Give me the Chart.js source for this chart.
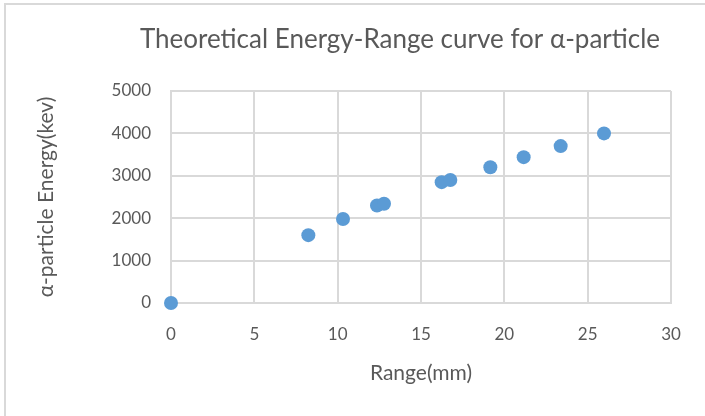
<!DOCTYPE html>
<html>
<head>
<meta charset="utf-8">
<script src="https://cdn.jsdelivr.net/npm/chart.js@4.4.1/dist/chart.umd.min.js"></script>
<style>
    html, body { margin: 0; padding: 0; background: #fff; }
    #wrap { position: relative; width: 705px; height: 416px; }
</style>
</head>
<body>
<div id="wrap"><canvas id="energyChart" width="705" height="416"></canvas></div>
<script>
const rangeMm = [0, 8.24, 10.32, 12.36, 12.78, 16.24, 16.76, 19.16, 21.16, 23.38, 25.98];
const energyKev = [0, 1600, 1980, 2300, 2340, 2850, 2900, 3200, 3440, 3700, 4000];
const xTicks = [0, 5, 10, 15, 20, 25, 30];
const yTicks = [0, 1000, 2000, 3000, 4000, 5000];

const chartTitle = 'Theoretical Energy-Range curve for α-particle';
const xTitle = 'Range(mm)';
const yTitle = 'α-particle Energy(kev)';

const textColor = '#595959';
const gridColor = '#d9d9d9';
const fontFamily = 'Lato, "Open Sans", sans-serif';

const chartFrame = {
    id: 'chartFrame',
    beforeDraw: function(chart) {
        const ctx = chart.ctx;
        ctx.save();
        ctx.fillStyle = '#fff';
        ctx.fillRect(0, 0, chart.width, chart.height);
        ctx.strokeStyle = gridColor;
        ctx.lineWidth = 2;
        ctx.beginPath();
        ctx.moveTo(5, chart.height);
        ctx.lineTo(5, 4);
        ctx.lineTo(chart.width, 4);
        ctx.stroke();
        ctx.restore();
    },
    afterDraw: function(chart) {
        const ctx = chart.ctx;
        const area = chart.chartArea;
        ctx.save();
        ctx.fillStyle = textColor;
        ctx.textAlign = 'center';
        ctx.textBaseline = 'middle';
        ctx.font = '26px ' + fontFamily;
        ctx.fillText(chartTitle, 400, 40);
        ctx.font = '21px ' + fontFamily;
        ctx.fillText(xTitle, (area.left + area.right) / 2, 373);
        ctx.translate(46, (area.top + area.bottom) / 2);
        ctx.rotate(-Math.PI / 2);
        ctx.fillText(yTitle, 0, 0);
        ctx.restore();
    }
};

new Chart(document.getElementById('energyChart'), {
    type: 'scatter',
    data: {
        datasets: [{
            label: 'Energy',
            data: rangeMm.map(function(x, i) { return { x: x, y: energyKev[i] }; }),
            backgroundColor: '#5b9bd5',
            borderColor: '#5b9bd5',
            pointRadius: 7,
            pointHoverRadius: 7,
            borderWidth: 0,
            clip: false
        }]
    },
    options: {
        responsive: false,
        animation: false,
        layout: { padding: { left: 0, right: 34, top: 91, bottom: 0 } },
        plugins: {
            legend: { display: false },
            tooltip: { enabled: false }
        },
        scales: {
            x: {
                type: 'linear',
                min: 0,
                max: 30,
                afterBuildTicks: function(scale) {
                    scale.ticks = xTicks.map(function(v) { return { value: v }; });
                },
                afterFit: function(scale) { scale.height = 416 - 303; },
                grid: { color: gridColor, lineWidth: 2, drawTicks: false },
                border: { color: gridColor, width: 2 },
                ticks: {
                    color: textColor,
                    font: { family: fontFamily, size: 17 },
                    padding: 21,
                    callback: function(value) { return String(value); }
                }
            },
            y: {
                min: 0,
                max: 5000,
                afterBuildTicks: function(scale) {
                    scale.ticks = yTicks.map(function(v) { return { value: v }; });
                },
                afterFit: function(scale) { scale.width = 171; },
                grid: { color: gridColor, lineWidth: 2, drawTicks: false },
                border: { color: gridColor, width: 2 },
                ticks: {
                    color: textColor,
                    font: { family: fontFamily, size: 17 },
                    padding: 20,
                    callback: function(value) { return String(value); }
                }
            }
        }
    },
    plugins: [chartFrame]
});
</script>
</body>
</html>
